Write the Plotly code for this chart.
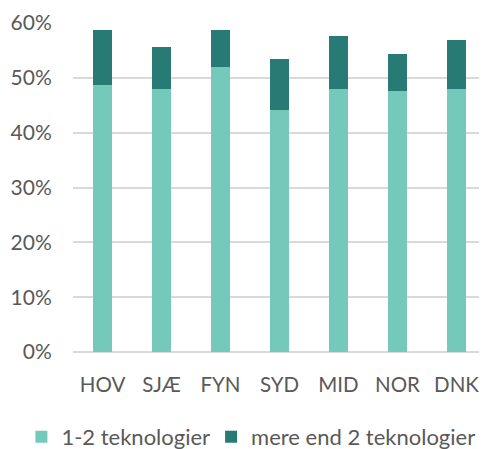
import plotly.graph_objects as go

categories = ["HOV", "SJÆ", "FYN", "SYD", "MID", "NOR", "DNK"]
series_names = ["1-2 teknologier", "mere end 2 teknologier"]
low_values = [48.7, 48.0, 52.0, 44.2, 48.0, 47.6, 48.0]
high_values = [10.0, 7.7, 6.7, 9.3, 9.7, 6.7, 8.9]
y_ticks = [0, 10, 20, 30, 40, 50, 60]
y_tick_labels = ["0%", "10%", "20%", "30%", "40%", "50%", "60%"]

fig = go.Figure()
fig.add_trace(go.Bar(x=categories, y=low_values, name=series_names[0],
                     marker=dict(color="#74C9BA", line=dict(width=0)), width=0.32,
                     legend="legend"))
fig.add_trace(go.Bar(x=categories, y=high_values, name=series_names[1],
                     marker=dict(color="#277B74", line=dict(width=0)), width=0.32,
                     legend="legend2"))

legend_style = dict(orientation="h", xref="container", yref="container",
                    xanchor="left", y=0.075, yanchor="top",
                    font=dict(size=22, color="#595959"), bgcolor="rgba(0,0,0,0)")

# the page body adds an 8px offset, so the figure is 8px smaller
fig.update_layout(
    width=479, height=441,
    barmode="stack",
    margin=dict(l=65, r=1, t=15, b=97, autoexpand=False),
    plot_bgcolor="white", paper_bgcolor="white",
    font=dict(family="Lato, Open Sans, sans-serif", size=21, color="#595959"),
    showlegend=True,
    legend=dict(x=0.028, **legend_style),
    legend2=dict(x=0.424, **legend_style),
    xaxis=dict(showgrid=False, showline=False, ticks="outside", ticklen=14,
               tickcolor="rgba(0,0,0,0)", tickfont=dict(size=20.5), automargin=False),
    yaxis=dict(range=[0, 60], tickvals=y_ticks, ticktext=y_tick_labels,
               showgrid=True, gridcolor="#D9D9D9", gridwidth=1.5,
               zeroline=True, zerolinecolor="#D9D9D9", zerolinewidth=1.5,
               showline=False, ticks="outside", ticklen=16, tickcolor="rgba(0,0,0,0)",
               tickfont=dict(size=21), automargin=False),
)

fig.write_html("out.html")
